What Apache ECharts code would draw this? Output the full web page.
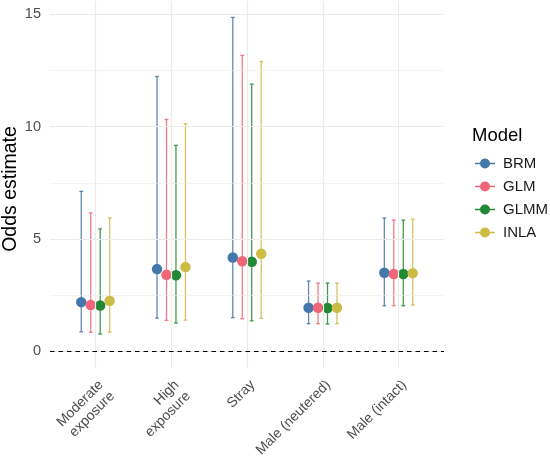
<!DOCTYPE html>
<html>
<head>
<meta charset="utf-8">
<script src="https://cdn.jsdelivr.net/npm/echarts@6/dist/echarts.min.js"></script>
<style>
  html, body { margin: 0; padding: 0; background: #fff; }
  #main { width: 550px; height: 461px; }
</style>
</head>
<body>
<div id="main"></div>
<script>
// odds estimates per model, with lower / upper interval bounds
var categories = ['Moderate\nexposure', 'High\nexposure', 'Stray', 'Male (neutered)', 'Male (intact)'];
var models = ['BRM', 'GLM', 'GLMM', 'INLA'];

var estBRM  = [2.19, 3.66, 4.18, 1.94, 3.50];
var estGLM  = [2.06, 3.41, 4.01, 1.94, 3.44];
var estGLMM = [2.04, 3.39, 3.99, 1.93, 3.44];
var estINLA = [2.25, 3.75, 4.34, 1.94, 3.48];

var lowBRM  = [0.87, 1.48, 1.50, 1.23, 2.03];
var lowGLM  = [0.85, 1.38, 1.45, 1.23, 2.03];
var lowGLMM = [0.77, 1.26, 1.36, 1.22, 2.03];
var lowINLA = [0.86, 1.39, 1.47, 1.23, 2.06];

var upBRM  = [7.12, 12.23, 14.86, 3.13, 5.93];
var upGLM  = [6.16, 10.32, 13.17, 3.04, 5.84];
var upGLMM = [5.45, 9.17, 11.89, 3.04, 5.84];
var upINLA = [5.94, 10.13, 12.90, 3.04, 5.88];

var yTicks = [0, 5, 10, 15];
var yMinor = [2.5, 7.5, 12.5];

var estimates = [estBRM, estGLM, estGLMM, estINLA];
var lowers = [lowBRM, lowGLM, lowGLMM, lowINLA];
var uppers = [upBRM, upGLM, upGLMM, upINLA];
var colors = ['#4477AA', '#EE6677', '#228833', '#CCBB44'];
var dodge = [-0.1875, -0.0625, 0.0625, 0.1875];
var capWidth = 0.05;

var font = "'Liberation Sans', Arial, sans-serif";

var myChart = echarts.init(document.getElementById('main'));

function errorBar(offset, color) {
    return function (params, api) {
        var x = api.value(0) + offset;
        var lo = api.coord([x, api.value(1)]);
        var hi = api.coord([x, api.value(2)]);
        var half = api.size([capWidth, 0])[0] / 2;
        var style = { stroke: color, lineWidth: 1.3, opacity: 0.85 };
        return {
            type: 'group',
            children: [
                { type: 'line', shape: { x1: lo[0], y1: lo[1], x2: hi[0], y2: hi[1] }, style: style },
                { type: 'line', shape: { x1: lo[0] - half, y1: lo[1], x2: lo[0] + half, y2: lo[1] }, style: style },
                { type: 'line', shape: { x1: hi[0] - half, y1: hi[1], x2: hi[0] + half, y2: hi[1] }, style: style }
            ]
        };
    };
}

var series = [];

// gridlines + zero reference line
var gridData = [];
yTicks.forEach(function (v) { gridData.push({ yAxis: v, lineStyle: { color: '#EBEBEB', width: 1.2, type: 'solid' } }); });
yMinor.forEach(function (v) { gridData.push({ yAxis: v, lineStyle: { color: '#EBEBEB', width: 0.6, type: 'solid' } }); });
categories.forEach(function (c, i) { gridData.push({ xAxis: i, lineStyle: { color: '#EBEBEB', width: 1.2, type: 'solid' } }); });
series.push({
    type: 'line',
    name: 'grid',
    data: [],
    z: 1,
    silent: true,
    markLine: {
        silent: true,
        symbol: 'none',
        animation: false,
        label: { show: false },
        data: gridData
    }
});
series.push({
    type: 'line',
    name: 'zero',
    data: [],
    z: 4,
    silent: true,
    markLine: {
        silent: true,
        symbol: 'none',
        animation: false,
        label: { show: false },
        data: [{ yAxis: 0, lineStyle: { color: '#000', width: 1.1, type: [4.5, 4] } }]
    }
});

models.forEach(function (m, k) {
    series.push({
        type: 'custom',
        name: m,
        z: 2,
        itemStyle: { color: colors[k] },
        renderItem: errorBar(dodge[k], colors[k]),
        data: categories.map(function (c, i) { return [i, lowers[k][i], uppers[k][i]]; })
    });
});
models.forEach(function (m, k) {
    series.push({
        type: 'scatter',
        name: m,
        z: 3,
        symbol: 'circle',
        symbolSize: 10.5,
        itemStyle: { color: colors[k], opacity: 1 },
        data: categories.map(function (c, i) { return [i + dodge[k], estimates[k][i]]; })
    });
});

var option = {
    animation: false,
    textStyle: { fontFamily: font },
    title: {
        text: 'Model',
        left: 472,
        top: 126,
        padding: 0,
        textStyle: { fontFamily: font, fontSize: 18.5, fontWeight: 'normal', color: '#000' }
    },
    // y axis title
    graphic: [{
        type: 'text',
        x: 11,
        y: 189,
        rotation: Math.PI / 2,
        silent: true,
        style: {
            text: 'Odds estimate',
            fontFamily: font,
            fontSize: 19.5,
            fill: '#000',
            align: 'center',
            verticalAlign: 'middle'
        }
    }],
    legend: {
        data: models,
        orient: 'vertical',
        left: 475,
        top: 156,
        padding: 0,
        itemWidth: 20,
        itemHeight: 10,
        itemGap: 8,
        selectedMode: false,
        icon: 'path://M0,4.2 L20,4.2 L20,5.8 L0,5.8 Z M15,5 A5,5 0 1 1 5,5 A5,5 0 1 1 15,5 Z',
        textStyle: { fontFamily: font, fontSize: 15, lineHeight: 15, color: '#1A1A1A', padding: [0, 0, 0, 3] }
    },
    grid: { left: 50, right: 106, top: 1, bottom: 93, containLabel: false, outerBoundsMode: 'none' },
    xAxis: {
        type: 'value',
        min: -0.6,
        max: 4.6,
        axisLine: { show: false },
        axisTick: { show: false },
        splitLine: { show: false },
        axisLabel: {
            customValues: [0, 1, 2, 3, 4],
            formatter: function (v) { return categories[Math.round(v)]; },
            rotate: 45,
            margin: 9,
            align: 'right',
            verticalAlign: 'top',
            lineHeight: 16,
            fontFamily: font,
            fontSize: 14,
            color: '#4D4D4D'
        }
    },
    yAxis: {
        type: 'value',
        min: -0.74,
        max: 15.59,
        axisLine: { show: false },
        axisTick: { show: false },
        splitLine: { show: false },
        axisLabel: {
            customValues: yTicks,
            margin: 9,
            fontFamily: font,
            fontSize: 14.5,
            color: '#4D4D4D'
        }
    },
    series: series
};

myChart.setOption(option);
</script>
</body>
</html>
